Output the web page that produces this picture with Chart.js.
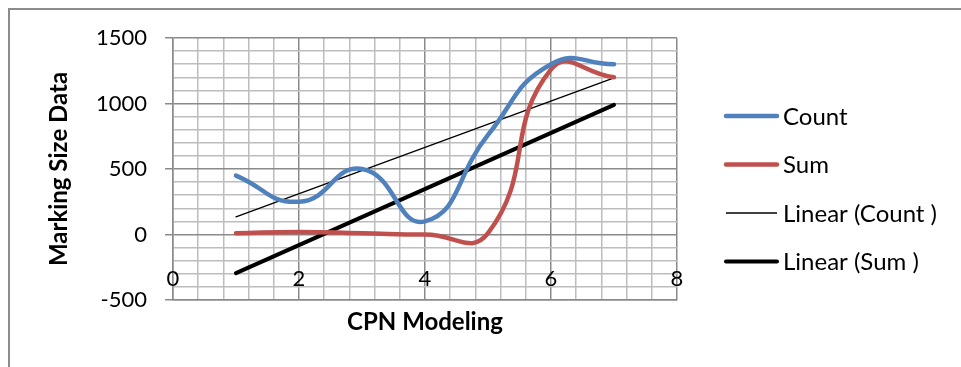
<!DOCTYPE html>
<html lang="en">
  <head>
    <meta charset="utf-8" />
    <title>CPN Modeling</title>
    <style>
      * {
        margin: 0;
        padding: 0;
      }
      body {
        background: white;
        overflow: hidden;
      }
      .chartBox {
        position: absolute;
        left: 0;
        top: 0;
        width: 961px;
        height: 367px;
      }
    </style>
  </head>
  <body>
    <div class="chartBox">
      <canvas id="myChart"></canvas>
    </div>

    <script src="https://cdn.jsdelivr.net/npm/chart.js@4.4.1/dist/chart.umd.min.js"></script>

    <script>
      const xValues = [1, 2, 3, 4, 5, 6, 7];
      const countValues = [450, 250, 500, 100, 760, 1300, 1300];
      const sumValues = [10, 20, 10, 0, 10, 1260, 1200];

      // trend lines, end points at x = 1 and x = 7
      const trendX = [1, 7];
      const countTrend = [135, 1195];
      const sumTrend = [-295, 990];

      const seriesLabels = ["Count", "Sum", "Linear (Count )", "Linear (Sum )"];

      const yTicks = [-500, 0, 500, 1000, 1500];
      const xTicks = [0, 2, 4, 6, 8];

      const FONT = "Lato, 'Liberation Sans', sans-serif";
      const MAJOR = "#8a8a8a";
      const MINOR = "#bdbdbd";

      const toPoints = (xs, ys) => xs.map((x, i) => ({ x: x, y: ys[i] }));
      const isMajor = (v, list) => list.some((t) => Math.abs(t - v) < 1e-6);

      const data = {
        datasets: [
          {
            label: seriesLabels[0],
            data: toPoints(xValues, countValues),
            borderColor: "#4f81bd",
            borderWidth: 4.5,
            tension: 0.5,
          },
          {
            label: seriesLabels[1],
            data: toPoints(xValues, sumValues),
            borderColor: "#c0504d",
            borderWidth: 4.5,
            tension: 0.5,
          },
          {
            label: seriesLabels[2],
            data: toPoints(trendX, countTrend),
            borderColor: "#000000",
            borderWidth: 1.3,
            tension: 0,
          },
          {
            label: seriesLabels[3],
            data: toPoints(trendX, sumTrend),
            borderColor: "#000000",
            borderWidth: 4,
            tension: 0,
          },
        ],
      };

      // outer frame of the chart box
      const frame = {
        id: "frame",
        beforeDraw(chart) {
          const { ctx, width, height } = chart;
          ctx.save();
          ctx.fillStyle = "white";
          ctx.fillRect(0, 0, width, height);
          ctx.strokeStyle = "#8c8c8c";
          ctx.lineWidth = 2;
          ctx.beginPath();
          ctx.moveTo(9, height);
          ctx.lineTo(9, 9);
          ctx.lineTo(width, 9);
          ctx.stroke();
          ctx.restore();
        },
      };

      // x tick labels sit inside the plot, a little above its lower edge
      const xLabels = {
        id: "xLabels",
        afterDatasetsDraw(chart) {
          const { ctx } = chart;
          const scale = chart.scales.x;
          ctx.save();
          ctx.font = "22px " + FONT;
          ctx.fillStyle = "#000";
          ctx.textAlign = "center";
          ctx.textBaseline = "middle";
          scale.ticks.forEach((tick, i) => {
            if (!isMajor(tick.value, xTicks)) return;
            ctx.fillText(String(Math.round(tick.value)), scale.getPixelForTick(i), scale.top - 21);
          });
          ctx.restore();
        },
      };

      // legend on the right with line samples
      const sideLegend = {
        id: "sideLegend",
        afterDraw(chart) {
          const { ctx } = chart;
          ctx.save();
          ctx.font = "24px " + FONT;
          ctx.textBaseline = "middle";
          ctx.textAlign = "left";
          chart.data.datasets.forEach((ds, i) => {
            const y = 116 + i * 48.5;
            ctx.strokeStyle = ds.borderColor;
            ctx.lineWidth = ds.borderWidth;
            ctx.lineCap = ds.borderWidth > 2 ? "round" : "butt";
            ctx.beginPath();
            ctx.moveTo(726, y);
            ctx.lineTo(777, y);
            ctx.stroke();
            ctx.fillStyle = "#000";
            ctx.fillText(ds.label, 783, y + 1);
          });
          ctx.restore();
        },
      };

      const config = {
        type: "scatter",
        data: data,
        options: {
          responsive: true,
          maintainAspectRatio: false,
          animation: false,
          showLine: true,
          layout: {
            padding: { top: 38, right: 284, left: 0, bottom: 0 },
          },
          elements: {
            point: { radius: 0 },
            line: { borderCapStyle: "round", capBezierPoints: false },
          },
          scales: {
            x: {
              type: "linear",
              min: 0,
              max: 8,
              afterBuildTicks(scale) {
                const ticks = [];
                for (let i = 0; i <= 20; i++) ticks.push({ value: i * 0.4 });
                scale.ticks = ticks;
              },
              afterFit(scale) {
                scale.height = 67;
              },
              ticks: { display: false },
              grid: {
                drawTicks: false,
                lineWidth: 1.5,
                color: (ctx) => (isMajor(ctx.tick.value, xTicks) ? MAJOR : MINOR),
              },
              border: { color: MAJOR, width: 1.5 },
              title: {
                display: true,
                text: "CPN Modeling",
                color: "#000",
                font: { family: FONT, size: 24, weight: "bold" },
                padding: { top: 0, bottom: 30 },
              },
            },
            y: {
              type: "linear",
              min: -500,
              max: 1500,
              afterBuildTicks(scale) {
                const ticks = [];
                for (let v = -500; v <= 1500; v += 100) ticks.push({ value: v });
                scale.ticks = ticks;
              },
              afterFit(scale) {
                scale.width = 173;
              },
              ticks: {
                autoSkip: false,
                padding: 18,
                color: "#000",
                font: { family: FONT, size: 22 },
                callback: (v) => (isMajor(v, yTicks) ? String(v) : ""),
              },
              grid: {
                tickLength: 8,
                lineWidth: 1.5,
                color: (ctx) => (isMajor(ctx.tick.value, yTicks) ? MAJOR : MINOR),
                tickColor: (ctx) => (isMajor(ctx.tick.value, yTicks) ? MAJOR : "rgba(0,0,0,0)"),
              },
              border: { color: MAJOR, width: 1.5 },
              title: {
                display: true,
                text: "Marking Size Data",
                color: "#000",
                font: { family: FONT, size: 24, weight: "bold" },
                padding: { top: 45, bottom: 0 },
              },
            },
          },
          plugins: {
            legend: { display: false },
            tooltip: { enabled: false },
          },
        },
        plugins: [frame, xLabels, sideLegend],
      };

      const myChart = new Chart(document.getElementById("myChart"), config);
    </script>
  </body>
</html>
